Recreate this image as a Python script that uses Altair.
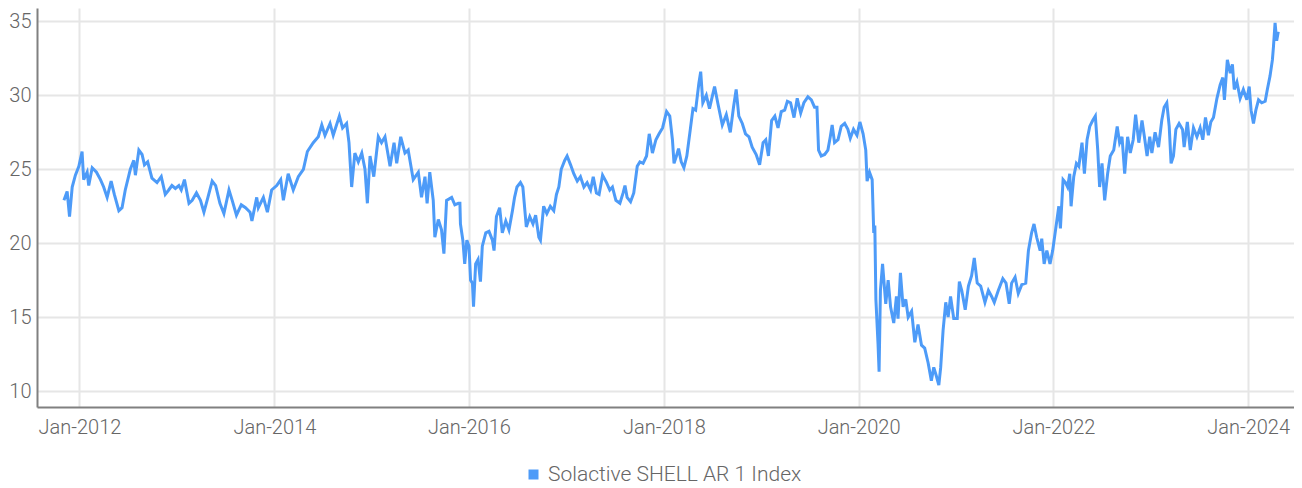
import altair as alt
import pandas as pd

SERIES = "Solactive SHELL AR 1 Index"
LINE_COLOR = "#4d9bf8"

dates_2011_2013 = [
    "2011-11-04", "2011-11-16", "2011-11-25", "2011-12-05", "2011-12-17", "2011-12-30",
    "2012-01-11", "2012-01-17", "2012-01-30", "2012-02-05", "2012-02-18", "2012-03-05",
    "2012-03-20", "2012-04-01", "2012-04-14", "2012-04-29", "2012-05-11", "2012-05-28",
    "2012-06-09", "2012-06-21", "2012-07-10", "2012-07-23", "2012-07-29", "2012-08-11",
    "2012-08-23", "2012-09-01", "2012-09-13", "2012-09-29", "2012-10-18", "2012-11-03",
    "2012-11-18", "2012-12-01", "2012-12-13", "2012-12-26", "2013-01-08", "2013-01-17",
    "2013-01-29", "2013-02-15", "2013-02-27", "2013-03-15", "2013-03-30", "2013-04-12",
    "2013-04-27", "2013-05-13", "2013-05-26", "2013-06-11", "2013-06-26", "2013-07-15",
    "2013-07-27", "2013-08-12", "2013-08-30", "2013-09-15", "2013-10-02", "2013-10-09",
    "2013-10-27", "2013-11-02", "2013-11-21", "2013-12-06", "2013-12-22",
]
values_2011_2013 = [
    22.9, 23.5, 21.8, 23.8, 24.6, 25.2,
    26.2, 24.3, 24.8, 23.9, 25.1, 24.8,
    24.3, 23.8, 23.1, 24.2, 23.3, 22.2,
    22.4, 23.6, 25.0, 25.6, 24.6, 26.3,
    26.0, 25.3, 25.5, 24.4, 24.1, 24.5,
    23.3, 23.6, 23.9, 23.7, 23.9, 23.6,
    24.3, 22.7, 22.9, 23.4, 22.9, 22.1,
    23.1, 24.2, 23.9, 22.7, 22.0, 23.6,
    22.9, 21.9, 22.6, 22.4, 22.1, 21.5,
    23.1, 22.4, 23.1, 22.1, 23.6,
]

dates_2014_2015 = [
    "2014-01-10", "2014-01-25", "2014-02-04", "2014-02-22", "2014-03-13", "2014-04-01",
    "2014-04-20", "2014-05-05", "2014-05-27", "2014-06-15", "2014-06-28", "2014-07-10",
    "2014-07-29", "2014-08-10", "2014-09-02", "2014-09-14", "2014-09-29", "2014-10-08",
    "2014-10-18", "2014-10-30", "2014-11-12", "2014-11-25", "2014-12-07", "2014-12-16",
    "2014-12-26", "2015-01-09", "2015-01-26", "2015-02-07", "2015-02-20", "2015-03-11",
    "2015-03-26", "2015-04-05", "2015-04-20", "2015-05-06", "2015-05-18", "2015-06-06",
    "2015-06-25", "2015-07-07", "2015-07-20", "2015-07-28", "2015-08-07", "2015-08-20",
    "2015-08-26", "2015-09-08", "2015-09-20", "2015-09-29", "2015-10-09", "2015-10-28",
    "2015-11-09", "2015-11-22", "2015-11-28", "2015-11-30", "2015-12-09", "2015-12-16",
    "2015-12-24",
]
values_2014_2015 = [
    23.9, 24.3, 22.9, 24.7, 23.6, 24.5,
    25.0, 26.2, 26.8, 27.2, 28.0, 27.3,
    28.1, 27.3, 28.6, 27.8, 28.1, 26.8,
    23.8, 26.1, 25.5, 26.1, 25.0, 22.7,
    25.9, 24.5, 27.2, 26.8, 27.2, 25.2,
    26.8, 25.4, 27.2, 26.1, 26.3, 24.3,
    24.8, 23.1, 24.5, 22.7, 24.8, 22.9,
    20.4, 21.6, 20.9, 19.3, 22.9, 23.1,
    22.6, 22.7, 22.7, 21.3, 20.2, 18.6,
    20.2,
]

dates_2016_2017 = [
    "2016-01-01", "2016-01-07", "2016-01-14", "2016-01-18", "2016-01-26", "2016-02-04",
    "2016-02-13", "2016-02-20", "2016-03-04", "2016-03-16", "2016-03-29", "2016-04-04",
    "2016-04-13", "2016-04-25", "2016-05-05", "2016-05-18", "2016-05-30", "2016-06-12",
    "2016-06-20", "2016-06-29", "2016-07-12", "2016-07-21", "2016-08-03", "2016-08-16",
    "2016-08-28", "2016-09-07", "2016-09-19", "2016-09-25", "2016-10-07", "2016-10-19",
    "2016-11-01", "2016-11-14", "2016-11-24", "2016-12-03", "2016-12-12", "2016-12-25",
    "2017-01-03", "2017-01-16", "2017-01-28", "2017-02-10", "2017-02-22", "2017-03-07",
    "2017-03-19", "2017-04-01", "2017-04-11", "2017-04-23", "2017-05-03", "2017-05-16",
    "2017-05-31", "2017-06-12", "2017-06-22", "2017-07-05", "2017-07-20", "2017-08-01",
    "2017-08-08", "2017-08-16", "2017-08-29", "2017-09-10", "2017-09-23", "2017-10-03",
    "2017-10-15", "2017-10-28", "2017-11-07", "2017-11-19", "2017-12-02", "2017-12-14",
    "2017-12-27",
]
values_2016_2017 = [
    19.8, 17.5, 17.3, 15.7, 18.6, 18.9,
    17.4, 19.8, 20.7, 20.8, 20.2, 19.5,
    21.8, 22.4, 20.7, 21.5, 20.9, 22.2,
    23.1, 23.8, 24.1, 23.8, 21.1, 21.8,
    21.3, 21.9, 20.4, 20.2, 22.5, 22.0,
    22.5, 22.2, 23.3, 23.8, 25.0, 25.6,
    25.9, 25.3, 24.7, 24.2, 24.5, 23.8,
    24.1, 23.6, 24.5, 23.4, 23.3, 24.6,
    24.1, 23.6, 23.8, 22.9, 22.7, 23.4,
    23.9, 23.1, 22.8, 23.4, 25.2, 25.5,
    25.4, 25.9, 27.4, 26.1, 27.0, 27.4,
    27.8,
]

dates_2018_2019 = [
    "2018-01-11", "2018-01-23", "2018-02-02", "2018-02-08", "2018-02-17", "2018-02-25",
    "2018-03-07", "2018-03-17", "2018-03-28", "2018-04-10", "2018-04-20", "2018-04-30",
    "2018-05-12", "2018-05-19", "2018-05-27", "2018-06-09", "2018-06-21", "2018-07-01",
    "2018-07-10", "2018-07-23", "2018-08-08", "2018-08-23", "2018-09-07", "2018-09-19",
    "2018-09-29", "2018-10-09", "2018-10-22", "2018-11-03", "2018-11-16", "2018-11-28",
    "2018-12-13", "2018-12-26", "2019-01-08", "2019-01-18", "2019-01-28", "2019-02-09",
    "2019-02-21", "2019-03-05", "2019-03-17", "2019-03-30", "2019-04-09", "2019-04-21",
    "2019-05-04", "2019-05-16", "2019-05-29", "2019-06-10", "2019-06-25", "2019-07-08",
    "2019-07-20", "2019-07-29", "2019-08-04", "2019-08-14", "2019-08-27", "2019-09-08",
    "2019-09-17", "2019-09-24", "2019-10-03", "2019-10-16", "2019-10-28", "2019-11-10",
    "2019-11-22", "2019-12-01", "2019-12-13", "2019-12-26",
]
values_2018_2019 = [
    28.9, 28.6, 27.0, 25.4, 25.9, 26.4,
    25.5, 25.1, 25.9, 27.7, 29.1, 29.0,
    30.8, 31.6, 29.5, 30.0, 29.1, 29.9,
    30.6, 29.4, 28.0, 28.7, 27.5, 29.2,
    30.4, 28.6, 28.1, 27.4, 27.2, 26.5,
    26.0, 25.3, 26.8, 27.0, 25.9, 28.3,
    28.6, 27.8, 28.9, 29.0, 29.6, 29.5,
    28.5, 29.8, 28.8, 29.5, 29.9, 29.7,
    29.2, 29.2, 26.3, 25.9, 26.0, 26.3,
    27.2, 28.0, 26.8, 27.0, 27.9, 28.1,
    27.7, 27.1, 27.7, 27.3,
]

dates_2020_2021 = [
    "2020-01-06", "2020-01-18", "2020-01-28", "2020-02-02", "2020-02-11", "2020-02-21",
    "2020-02-27", "2020-03-02", "2020-03-06", "2020-03-14", "2020-03-18", "2020-03-23",
    "2020-03-31", "2020-04-12", "2020-04-21", "2020-04-30", "2020-05-12", "2020-05-22",
    "2020-05-28", "2020-06-06", "2020-06-16", "2020-06-26", "2020-07-05", "2020-07-18",
    "2020-07-30", "2020-08-11", "2020-08-24", "2020-09-05", "2020-09-18", "2020-09-30",
    "2020-10-09", "2020-10-19", "2020-10-28", "2020-11-04", "2020-11-13", "2020-11-23",
    "2020-12-02", "2020-12-11", "2020-12-23", "2021-01-05", "2021-01-13", "2021-01-22",
    "2021-02-04", "2021-02-16", "2021-02-28", "2021-03-10", "2021-03-21", "2021-04-03",
    "2021-04-19", "2021-05-02", "2021-05-14", "2021-05-24", "2021-06-08", "2021-06-25",
    "2021-07-07", "2021-07-19", "2021-07-28", "2021-08-10", "2021-08-22", "2021-09-04",
    "2021-09-19", "2021-09-29", "2021-10-11", "2021-10-20", "2021-10-30", "2021-11-12",
    "2021-11-18", "2021-11-27", "2021-12-07", "2021-12-19", "2021-12-29",
]
values_2020_2021 = [
    28.2, 27.4, 26.3, 24.2, 24.8, 24.3,
    20.7, 21.2, 16.2, 13.2, 11.3, 16.8,
    18.6, 15.9, 17.5, 15.7, 14.6, 16.4,
    14.9, 18.0, 15.7, 16.2, 15.0, 15.4,
    13.3, 14.5, 13.1, 12.9, 11.9, 10.7,
    11.6, 11.0, 10.4, 11.6, 14.1, 16.0,
    15.0, 16.4, 14.9, 14.9, 17.4, 16.8,
    15.5, 17.1, 17.8, 19.0, 17.3, 17.1,
    16.0, 16.8, 16.4, 16.0, 16.8, 17.6,
    17.3, 15.9, 17.3, 17.7, 16.6, 17.2,
    17.3, 19.5, 20.7, 21.3, 20.4, 19.5,
    20.3, 18.6, 19.5, 18.6, 19.5,
]

dates_2022_2024 = [
    "2022-01-08", "2022-01-21", "2022-01-27", "2022-02-06", "2022-02-15", "2022-02-23",
    "2022-03-03", "2022-03-08", "2022-03-18", "2022-03-28", "2022-04-06", "2022-04-18",
    "2022-04-27", "2022-05-07", "2022-05-17", "2022-05-28", "2022-06-07", "2022-06-16",
    "2022-06-23", "2022-07-02", "2022-07-12", "2022-07-23", "2022-08-02", "2022-08-15",
    "2022-08-28", "2022-09-06", "2022-09-15", "2022-09-25", "2022-10-06", "2022-10-16",
    "2022-10-27", "2022-11-05", "2022-11-17", "2022-11-29", "2022-12-08", "2022-12-18",
    "2022-12-28", "2023-01-05", "2023-01-17", "2023-01-30", "2023-02-11", "2023-02-20",
    "2023-03-02", "2023-03-11", "2023-03-18", "2023-03-27", "2023-04-05", "2023-04-17",
    "2023-04-30", "2023-05-06", "2023-05-18", "2023-05-29", "2023-06-10", "2023-06-23",
    "2023-07-05", "2023-07-15", "2023-07-25", "2023-08-05", "2023-08-14", "2023-08-24",
    "2023-09-06", "2023-09-18", "2023-09-28", "2023-10-04", "2023-10-15", "2023-10-26",
    "2023-11-03", "2023-11-10", "2023-11-20", "2023-12-02", "2023-12-14", "2023-12-27",
    "2024-01-05", "2024-01-12", "2024-01-21", "2024-01-30", "2024-02-09", "2024-02-21",
    "2024-03-05", "2024-03-13", "2024-03-23", "2024-04-01", "2024-04-05", "2024-04-11",
    "2024-04-17", "2024-04-23",
]
values_2022_2024 = [
    20.8, 22.5, 21.0, 24.3, 24.1, 23.8,
    24.7, 22.5, 24.5, 25.4, 25.2, 26.8,
    24.7, 27.0, 27.9, 28.3, 28.6, 26.3,
    23.8, 25.4, 22.9, 24.7, 25.9, 26.3,
    27.9, 26.8, 27.2, 24.7, 27.2, 26.1,
    27.0, 28.7, 26.8, 28.3, 27.2, 25.9,
    27.2, 26.1, 27.5, 26.5, 28.3, 29.2,
    29.5, 27.9, 25.4, 25.9, 27.7, 28.1,
    27.7, 26.5, 28.2, 26.3, 27.8, 27.2,
    27.8, 27.0, 28.5, 27.3, 28.2, 28.5,
    29.8, 30.7, 31.2, 29.7, 32.4, 31.5,
    32.1, 30.4, 30.9, 29.8, 30.4, 29.7,
    30.6, 29.0, 28.1, 29.0, 29.7, 29.5,
    29.6, 30.4, 31.3, 32.4, 33.3, 34.9,
    33.7, 34.3,
]

tick_years = [2012, 2014, 2016, 2018, 2020, 2022, 2024]
y_ticks = [10, 15, 20, 25, 30, 35]

dates = (dates_2011_2013 + dates_2014_2015 + dates_2016_2017
         + dates_2018_2019 + dates_2020_2021 + dates_2022_2024)
values = (values_2011_2013 + values_2014_2015 + values_2016_2017
          + values_2018_2019 + values_2020_2021 + values_2022_2024)

df = pd.DataFrame({"date": dates, "value": values, "series": SERIES})

FONT = "Roboto"
LABEL_COLOR = "#666666"

x_axis = alt.Axis(
    values=[alt.DateTime(year=y, month=1, date=1, utc=True) for y in tick_years],
    labelExpr="utcFormat(datum.value, '%b-%Y')",
    title=None,
    ticks=False,
    labelPadding=10,
    labelFontSize=20,
    labelFont=FONT,
    labelFontWeight=300,
    labelColor=LABEL_COLOR,
    domainColor="#808080",
    domainWidth=2,
    grid=True,
    gridColor="#e6e6e6",
    gridWidth=2,
)

y_axis = alt.Axis(
    values=y_ticks,
    title=None,
    ticks=False,
    labelPadding=6,
    labelFontSize=20,
    labelFont=FONT,
    labelFontWeight=300,
    labelColor=LABEL_COLOR,
    domainColor="#808080",
    domainWidth=2,
    grid=True,
    gridColor="#e6e6e6",
    gridWidth=2,
)

chart = alt.Chart(df).mark_line(strokeWidth=3, interpolate="linear").encode(
    x=alt.X(
        "date:T",
        axis=x_axis,
        scale=alt.Scale(
            type="utc",
            domain=[
                alt.DateTime(year=2011, month=7, date=26, utc=True),
                alt.DateTime(year=2024, month=6, date=21, utc=True),
            ],
            nice=False,
        ),
    ),
    y=alt.Y(
        "value:Q",
        axis=y_axis,
        scale=alt.Scale(domain=[8.92, 35.91], nice=False, zero=False),
    ),
    color=alt.Color(
        "series:N",
        scale=alt.Scale(domain=[SERIES], range=[LINE_COLOR]),
        legend=alt.Legend(
            title=None,
            orient="none",
            legendX=486,
            legendY=456,
            symbolType="square",
            symbolSize=100,
            symbolStrokeWidth=0,
            symbolFillColor=LINE_COLOR,
            labelFontSize=21,
            labelFont=FONT,
            labelFontWeight=300,
            labelColor=LABEL_COLOR,
            labelOffset=4,
            labelLimit=0,
        ),
    ),
).properties(
    width=1257,
    height=399,
    autosize=alt.AutoSizeParams(type="none"),
    padding={"left": 29, "top": 0, "right": 0, "bottom": 80},
).configure_view(stroke=None)

chart.save("out.html", embed_options={"renderer": "svg", "actions": False})
